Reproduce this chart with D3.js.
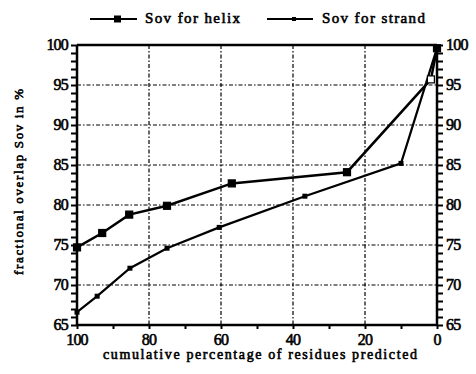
<!DOCTYPE html>
<html>
<head>
<meta charset="utf-8">
<script src="https://cdn.jsdelivr.net/npm/d3@7"></script>
<style>
  body { margin: 0; background: #fff; }
  text { font-family: "Liberation Serif", "Times New Roman", serif; font-weight: normal; fill: #000; stroke: #000; stroke-width: 0.6; }
</style>
</head>
<body>
<div id="chart"></div>
<script>
// cumulative percentage of residues predicted (x) and Sov in % (y)
const helixX = [100, 93, 85.5, 75, 57, 25, 1.7, 0];
const helixY = [74.7, 76.5, 78.8, 79.9, 82.7, 84.1, 95.7, 99.6];
const strandX = [100, 94.4, 85.3, 75, 60.5, 36.7, 10, 0];
const strandY = [66.6, 68.6, 72.1, 74.6, 77.2, 81.1, 85.2, 99.6];
const xTicks = [100, 80, 60, 40, 20, 0];
const yTicks = [65, 70, 75, 80, 85, 90, 95, 100];
const seriesNames = ['Sov for helix', 'Sov for strand'];

const w = 476, h = 374;
const mLeft = 77, mRight = 437, mTop = 45, mBottom = 325;

const svg = d3.select('#chart').append('svg')
  .attr('width', w)
  .attr('height', h);

const x = d3.scaleLinear().domain([100, 0]).range([mLeft, mRight]);
const y = d3.scaleLinear().domain([65, 100]).range([mBottom, mTop]);

// grid (dash-dot)
const grid = svg.append('g')
  .attr('stroke', '#000')
  .attr('stroke-width', 1.2)
  .attr('stroke-dasharray', '4,2,1.5,2');
grid.selectAll('.gx')
  .data(xTicks.filter(d => d !== 100 && d !== 0))
  .enter().append('line')
  .attr('x1', d => x(d)).attr('x2', d => x(d))
  .attr('y1', mTop).attr('y2', mBottom);
grid.selectAll('.gy')
  .data(yTicks.filter(d => d !== 65 && d !== 100))
  .enter().append('line')
  .attr('x1', mLeft).attr('x2', mRight)
  .attr('y1', d => y(d)).attr('y2', d => y(d));

// top frame line
svg.append('line').attr('x1', mLeft).attr('x2', mRight).attr('y1', mTop).attr('y2', mTop)
  .attr('stroke', '#000').attr('stroke-width', 2.5);

// axes
const minor = d3.range(65, 100.5, 1);
const leftAxis = svg.append('g')
  .attr('transform', `translate(${mLeft},0)`)
  .call(d3.axisLeft(y).tickValues(minor).tickSize(6).tickFormat(''));
const rightAxis = svg.append('g')
  .attr('transform', `translate(${mRight},0)`)
  .call(d3.axisRight(y).tickValues(minor).tickSize(6).tickFormat(''));
const bottomAxis = svg.append('g')
  .attr('transform', `translate(0,${mBottom})`)
  .call(d3.axisBottom(x).tickValues(d3.range(0, 101, 10)).tickSize(4).tickFormat(''));

[leftAxis, rightAxis, bottomAxis].forEach(g => {
  g.select('.domain').attr('stroke-width', 2.5).attr('stroke', '#000');
  g.selectAll('.tick line').attr('stroke-width', 2).attr('stroke', '#000');
});
leftAxis.select('.domain').attr('d', `M0,${mTop}V${mBottom}`);
rightAxis.select('.domain').attr('d', `M0,${mTop}V${mBottom}`);
bottomAxis.select('.domain').attr('d', `M${mLeft},0H${mRight}`);

// tick labels
svg.selectAll('.ylab-l')
  .data(yTicks)
  .enter().append('text')
  .attr('x', mLeft - 9)
  .attr('y', d => y(d) + 5)
  .attr('text-anchor', 'end')
  .attr('font-size', 16)
  .attr('letter-spacing', -0.8)
  .text(d => d);
svg.selectAll('.ylab-r')
  .data(yTicks)
  .enter().append('text')
  .attr('x', mRight + 9)
  .attr('y', d => y(d) + 5)
  .attr('font-size', 16)
  .attr('letter-spacing', -0.8)
  .text(d => d);
svg.selectAll('.xlab')
  .data(xTicks)
  .enter().append('text')
  .attr('x', d => x(d))
  .attr('y', 345)
  .attr('text-anchor', 'middle')
  .attr('font-size', 16)
  .attr('letter-spacing', -0.8)
  .text(d => d);

// axis titles
svg.append('text')
  .attr('x', 260)
  .attr('y', 359)
  .attr('text-anchor', 'middle')
  .attr('font-size', 14)
  .attr('textLength', 314)
  .text('cumulative percentage of residues predicted');
svg.append('text')
  .attr('transform', 'translate(23,182) rotate(-90)')
  .attr('text-anchor', 'middle')
  .attr('font-size', 13)
  .attr('textLength', 186)
  .text('fractional overlap Sov in %');

// series
const line = d3.line().x(d => x(d[0])).y(d => y(d[1]));
const helix = helixX.map((v, i) => [v, helixY[i]]);
const strand = strandX.map((v, i) => [v, strandY[i]]);

svg.append('path').datum(strand).attr('d', line)
  .attr('fill', 'none').attr('stroke', '#000').attr('stroke-width', 2.2);
svg.append('path').datum(helix).attr('d', line)
  .attr('fill', 'none').attr('stroke', '#000').attr('stroke-width', 2.5);

svg.selectAll('.ms')
  .data(strand)
  .enter().append('rect')
  .attr('x', d => x(d[0]) - 2.5).attr('y', d => y(d[1]) - 2.5)
  .attr('width', 5).attr('height', 5)
  .attr('fill', '#000');
svg.selectAll('.mh')
  .data(helix)
  .enter().append('rect')
  .attr('x', d => x(d[0]) - 3.5).attr('y', d => y(d[1]) - 3.5)
  .attr('width', 7).attr('height', 7)
  .attr('fill', (d, i) => i === helix.length - 2 ? '#fff' : '#000')
  .attr('stroke', '#000').attr('stroke-width', 1.2);

// legend
const legend = [
  { name: seriesNames[0], x0: 90, x1: 137, size: 7, tx: 145, tl: 95 },
  { name: seriesNames[1], x0: 267, x1: 313, size: 4, tx: 322, tl: 103 }
];
legend.forEach(l => {
  svg.append('line').attr('x1', l.x0).attr('x2', l.x1).attr('y1', 19).attr('y2', 19)
    .attr('stroke', '#000').attr('stroke-width', 2);
  svg.append('rect')
    .attr('x', (l.x0 + l.x1) / 2 + 4 - l.size / 2).attr('y', 19 - l.size / 2)
    .attr('width', l.size).attr('height', l.size).attr('fill', '#000');
  svg.append('text').attr('x', l.tx).attr('y', 23)
    .attr('font-size', 15).attr('textLength', l.tl)
    .text(l.name);
});
</script>
</body>
</html>
